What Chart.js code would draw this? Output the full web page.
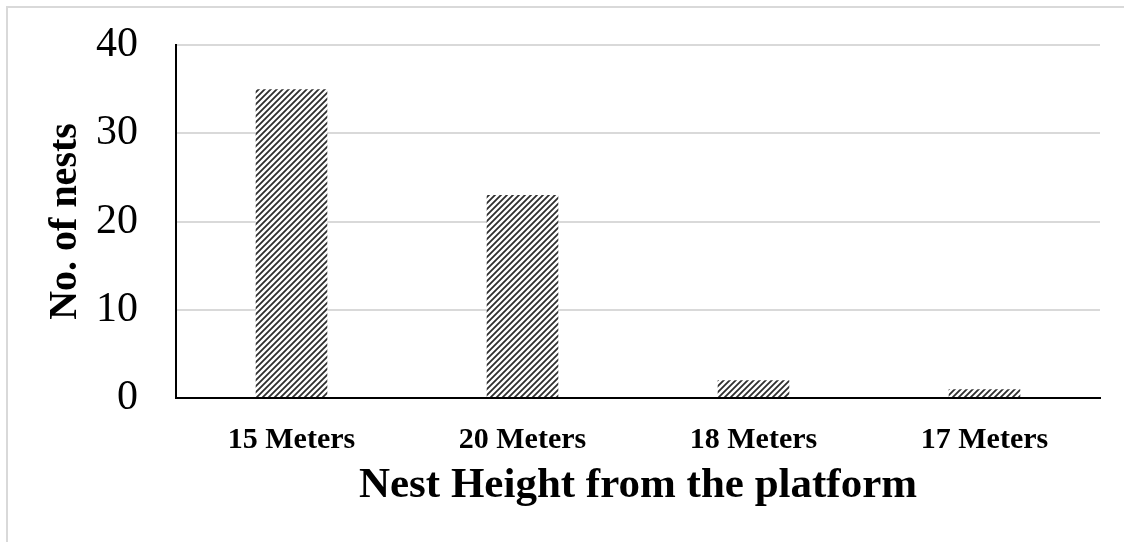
<!DOCTYPE html>
<html lang="en">
<head>
<meta charset="UTF-8">
<title>Nest Height</title>
<script src="https://cdn.jsdelivr.net/npm/chart.js"></script>
<style>
    html, body { margin: 0; padding: 0; background: #fff; }
    #moldura {
        position: absolute; left: 6px; top: 6px; width: 1130px; height: 560px;
        border-left: 2px solid #d9d9d9; border-top: 2px solid #d9d9d9;
    }
    #caixa { position: absolute; left: 0; top: 0; width: 1124px; height: 542px; }
</style>
</head>
<body>
<div id="moldura"></div>
<div id="caixa"><canvas id="grafico"></canvas></div>

<script>
    // dados
    var alturas = ['15 Meters', '20 Meters', '18 Meters', '17 Meters'];
    var ninhos = [35, 23, 2, 1];
    var ticksY = [0, 10, 20, 30, 40];

    // hachura diagonal (listras finas tipo "dark upward diagonal")
    function criarHachura() {
        var t = 6;
        var c = document.createElement('canvas');
        c.width = t; c.height = t;
        var g = c.getContext('2d');
        g.fillStyle = '#ffffff';
        g.fillRect(0, 0, t, t);
        g.strokeStyle = '#2e2e2e';
        g.lineWidth = 1.8;
        g.beginPath();
        for (var k = -1; k <= 1; k++) {
            g.moveTo(k * t - 1, t + 1);
            g.lineTo(k * t + t + 1, -1);
        }
        g.stroke();
        return g.createPattern(c, 'repeat');
    }

    var fonte = "'Liberation Serif', 'Times New Roman', serif";

    const config = {
        type: 'bar',
        data: {
            labels: alturas,
            datasets: [{
                data: ninhos,
                backgroundColor: criarHachura(),
                borderWidth: 0,
                categoryPercentage: 1,
                barPercentage: 0.31
            }]
        },
        options: {
            responsive: false,
            animation: false,
            layout: { padding: { left: 42, right: 24, top: 45, bottom: 30 } },
            plugins: { legend: { display: false }, tooltip: { enabled: false } },
            scales: {
                x: {
                    afterFit: function (eixo) { eixo.height = 114; },
                    grid: { display: false, drawTicks: false },
                    border: { color: '#000000', width: 2 },
                    ticks: { color: '#000', font: { family: fonte, size: 30, weight: 'bold' }, padding: 24 },
                    title: {
                        display: true, text: 'Nest Height from the platform', color: '#000',
                        font: { family: fonte, size: 43, weight: 'bold' }, padding: { top: 2, bottom: 0 }
                    }
                },
                y: {
                    min: 0, max: 40,
                    afterFit: function (eixo) {
                        eixo.width = 134;
                        eixo.paddingTop = 0;
                        eixo.paddingBottom = 0;
                    },
                    afterBuildTicks: function (axis) { axis.ticks = ticksY.map(v => ({ value: v })); },
                    grid: { color: '#d9d9d9', lineWidth: 2, drawTicks: false },
                    border: { color: '#000000', width: 2 },
                    ticks: { color: '#000', font: { family: fonte, size: 42 }, padding: 38 },
                    title: {
                        display: true, text: 'No. of nests', color: '#000',
                        font: { family: fonte, size: 40, weight: 'bold' }, padding: { top: 0, bottom: 6 }
                    }
                }
            }
        }
    };

    var cv = document.getElementById('grafico');
    cv.width = 1124; cv.height = 542;
    const grafico = new Chart(cv, config);
</script>
</body>
</html>
